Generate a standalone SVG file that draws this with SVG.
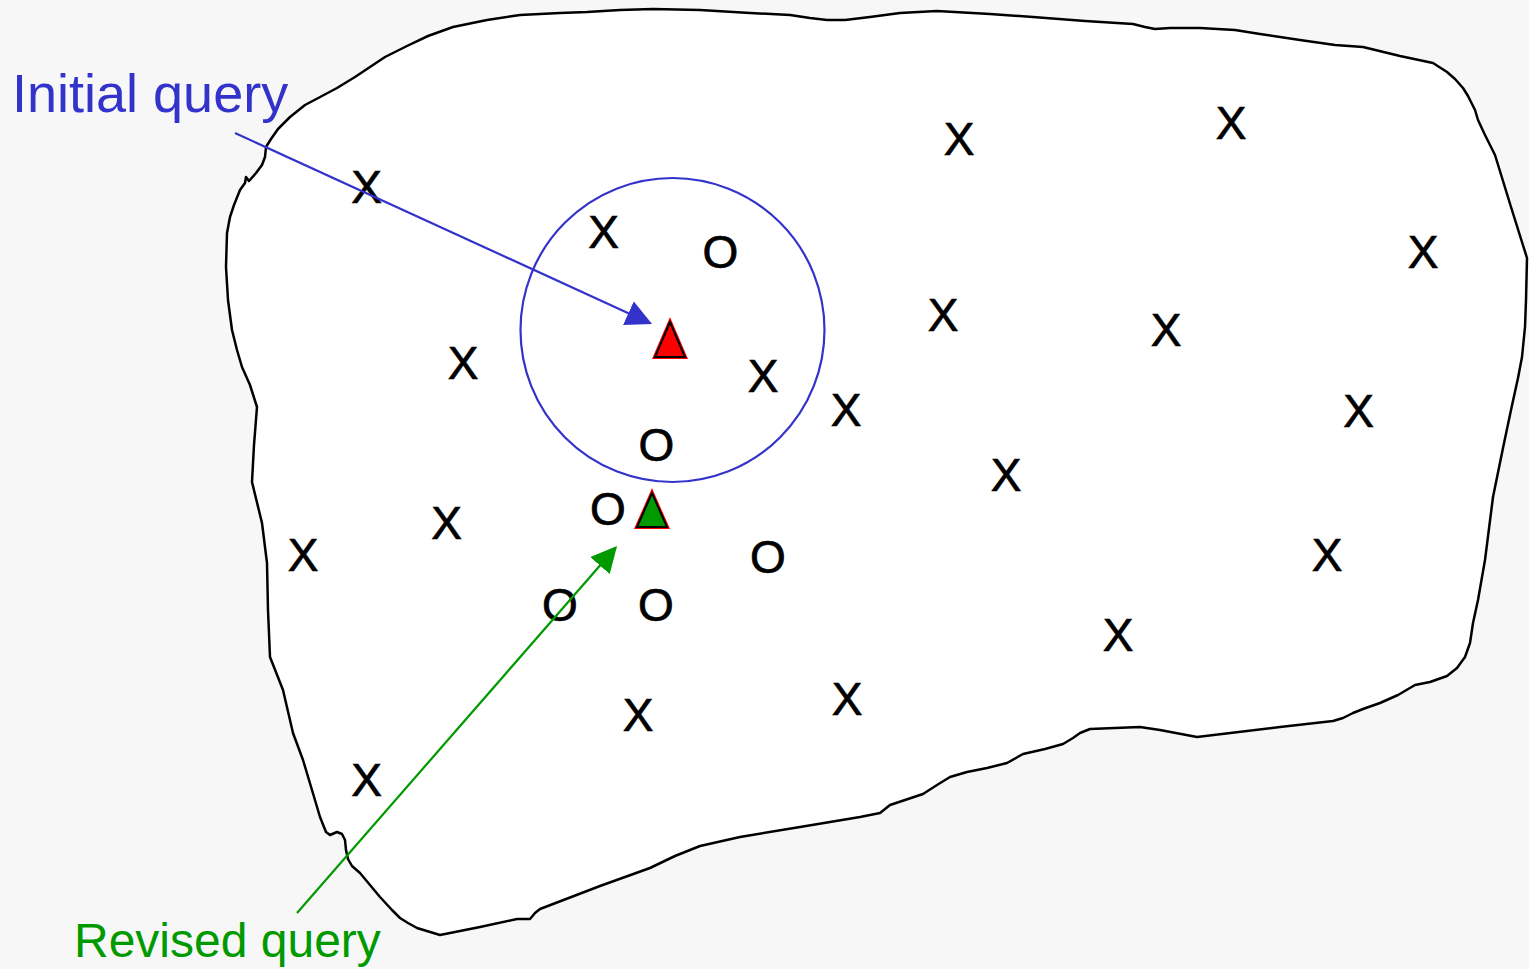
<svg xmlns="http://www.w3.org/2000/svg" width="1529" height="969" viewBox="0 0 1529 969">
  <style>
    .pt { font-family: "Liberation Sans", Arial, sans-serif; font-size: 46px; fill: #000; stroke: #000; stroke-width: 0.7; text-anchor: middle; }
    .lbl { font-family: "Liberation Sans", Arial, sans-serif; }
    .blob { fill: #fff; stroke: #000; stroke-width: 2.5; stroke-linejoin: round; }
    .conn { fill: none; stroke-width: 2.2; }
  </style>
  <defs>
    <marker id="ahBlue" viewBox="0 0 26 26" refX="24" refY="13" markerWidth="26" markerHeight="26" markerUnits="userSpaceOnUse" orient="auto">
      <path d="M0,0 L26,13 L0,26 Z" fill="#3333cc"/>
    </marker>
    <marker id="ahGreen" viewBox="0 0 26 26" refX="24" refY="13" markerWidth="26" markerHeight="26" markerUnits="userSpaceOnUse" orient="auto">
      <path d="M0,0 L26,13 L0,26 Z" fill="#009900"/>
    </marker>
  </defs>
  <rect width="1529" height="969" fill="#f7f7f7"/>
  <g id="space">
    <path class="blob" d="M 232,330 L 228,300 L 226,267 L 227,233 L 230,217 L 234,205 L 240,190 L 245,183 L 246,177 L 249,181 L 256,173 L 262,165 L 265,157 L 266,147 L 271,139 L 278,129 L 290,117 L 305,105 L 322,96 L 337,88 L 355,77 L 370,67 L 385,57 L 407,46 L 428,36 L 453,27 L 487,20 L 520,15 L 560,13 L 587,12 L 620,10 L 653,9 L 700,10 L 750,13 L 790,15 L 810,18 L 827,20 L 845,20 L 870,17 L 900,13 L 937,11 L 990,14 L 1033,17 L 1085,21 L 1133,24 L 1145,27 L 1155,29 L 1170,28 L 1200,28 L 1235,30 L 1260,34 L 1300,40 L 1335,45 L 1363,47 L 1400,56 L 1433,63 L 1447,72 L 1455,79 L 1463,88 L 1468,96 L 1475,110 L 1478,120 L 1485,135 L 1495,155 L 1511,207 L 1527,258 L 1526,300 L 1525,327 L 1522,357 L 1518,378 L 1511,410 L 1503,448 L 1493,497 L 1485,560 L 1478,600 L 1473,623 L 1470,643 L 1465,657 L 1457,668 L 1447,676 L 1430,682 L 1415,685 L 1398,695 L 1380,703 L 1363,709 L 1353,713 L 1343,718 L 1333,721 L 1280,727 L 1197,737 L 1160,730 L 1140,727 L 1090,729 L 1080,733 L 1073,738 L 1063,744 L 1045,749 L 1023,754 L 1007,763 L 987,768 L 967,772 L 950,777 L 937,785 L 923,794 L 890,805 L 880,813 L 860,817 L 830,822 L 800,827 L 740,837 L 700,846 L 675,856 L 650,868 L 600,886 L 540,909 L 535,913 L 530,919 L 517,919 L 480,927 L 440,935 L 417,928 L 408,923 L 400,918 L 392,910 L 380,897 L 370,885 L 360,873 L 352,866 L 348,859 L 346,850 L 345,840 L 342,834 L 337,832 L 330,835 L 326,832 L 320,817 L 312,790 L 303,760 L 293,733 L 283,690 L 270,657 L 268,610 L 267,563 L 262,523 L 252,482 L 254,445 L 257,407 L 250,385 L 242,367 L 237,350 Z"/>
  </g>
  <g id="neighbourhood">
    <circle cx="672.5" cy="330" r="152" fill="none" stroke="#3333cc" stroke-width="2.2"/>
  </g>
  <g id="points-x">
    <text class="pt" x="366.5" y="203">X</text>
    <text class="pt" x="603.5" y="248">X</text>
    <text class="pt" x="959" y="155">X</text>
    <text class="pt" x="1231" y="139">X</text>
    <text class="pt" x="1423" y="268">X</text>
    <text class="pt" x="943" y="331">X</text>
    <text class="pt" x="1166" y="346">X</text>
    <text class="pt" x="463" y="379">X</text>
    <text class="pt" x="763" y="392">X</text>
    <text class="pt" x="846" y="426">X</text>
    <text class="pt" x="1358.5" y="427">X</text>
    <text class="pt" x="1006" y="491">X</text>
    <text class="pt" x="446.5" y="539">X</text>
    <text class="pt" x="303" y="571">X</text>
    <text class="pt" x="1327" y="571">X</text>
    <text class="pt" x="1118" y="651">X</text>
    <text class="pt" x="847" y="715">X</text>
    <text class="pt" x="638" y="731">X</text>
    <text class="pt" x="366.5" y="796">X</text>
  </g>
  <g id="points-o">
    <text class="pt" x="720.5" y="268">O</text>
    <text class="pt" x="656.5" y="461">O</text>
    <text class="pt" x="608" y="525">O</text>
    <text class="pt" x="768" y="573">O</text>
    <text class="pt" x="560" y="621">O</text>
    <text class="pt" x="656" y="621">O</text>
  </g>
  <g id="initial-query-point">
    <polygon points="670,322 655,357 685,357" fill="#ff0000" stroke="#ff0000" stroke-width="4"/>
    <polygon points="670,322 655,357 685,357" fill="#ff0000" stroke="#000" stroke-width="2"/>
  </g>
  <g id="revised-query-point">
    <polygon points="652,493 637,527 667,527" fill="#009900" stroke="#ff0000" stroke-width="4"/>
    <polygon points="652,493 637,527 667,527" fill="#009900" stroke="#000" stroke-width="2"/>
  </g>
  <g id="connectors">
    <line class="conn" x1="235" y1="133" x2="650.2" y2="323.2" stroke="#3333cc" marker-end="url(#ahBlue)"/>
    <line class="conn" x1="297" y1="913" x2="615.7" y2="547.5" stroke="#009900" marker-end="url(#ahGreen)"/>
  </g>
  <g id="label-initial">
    <text class="lbl" x="12" y="112" font-size="54" fill="#3333cc">Initial query</text>
  </g>
  <g id="label-revised">
    <text class="lbl" x="74" y="957" font-size="48" fill="#009900">Revised query</text>
  </g>
</svg>
